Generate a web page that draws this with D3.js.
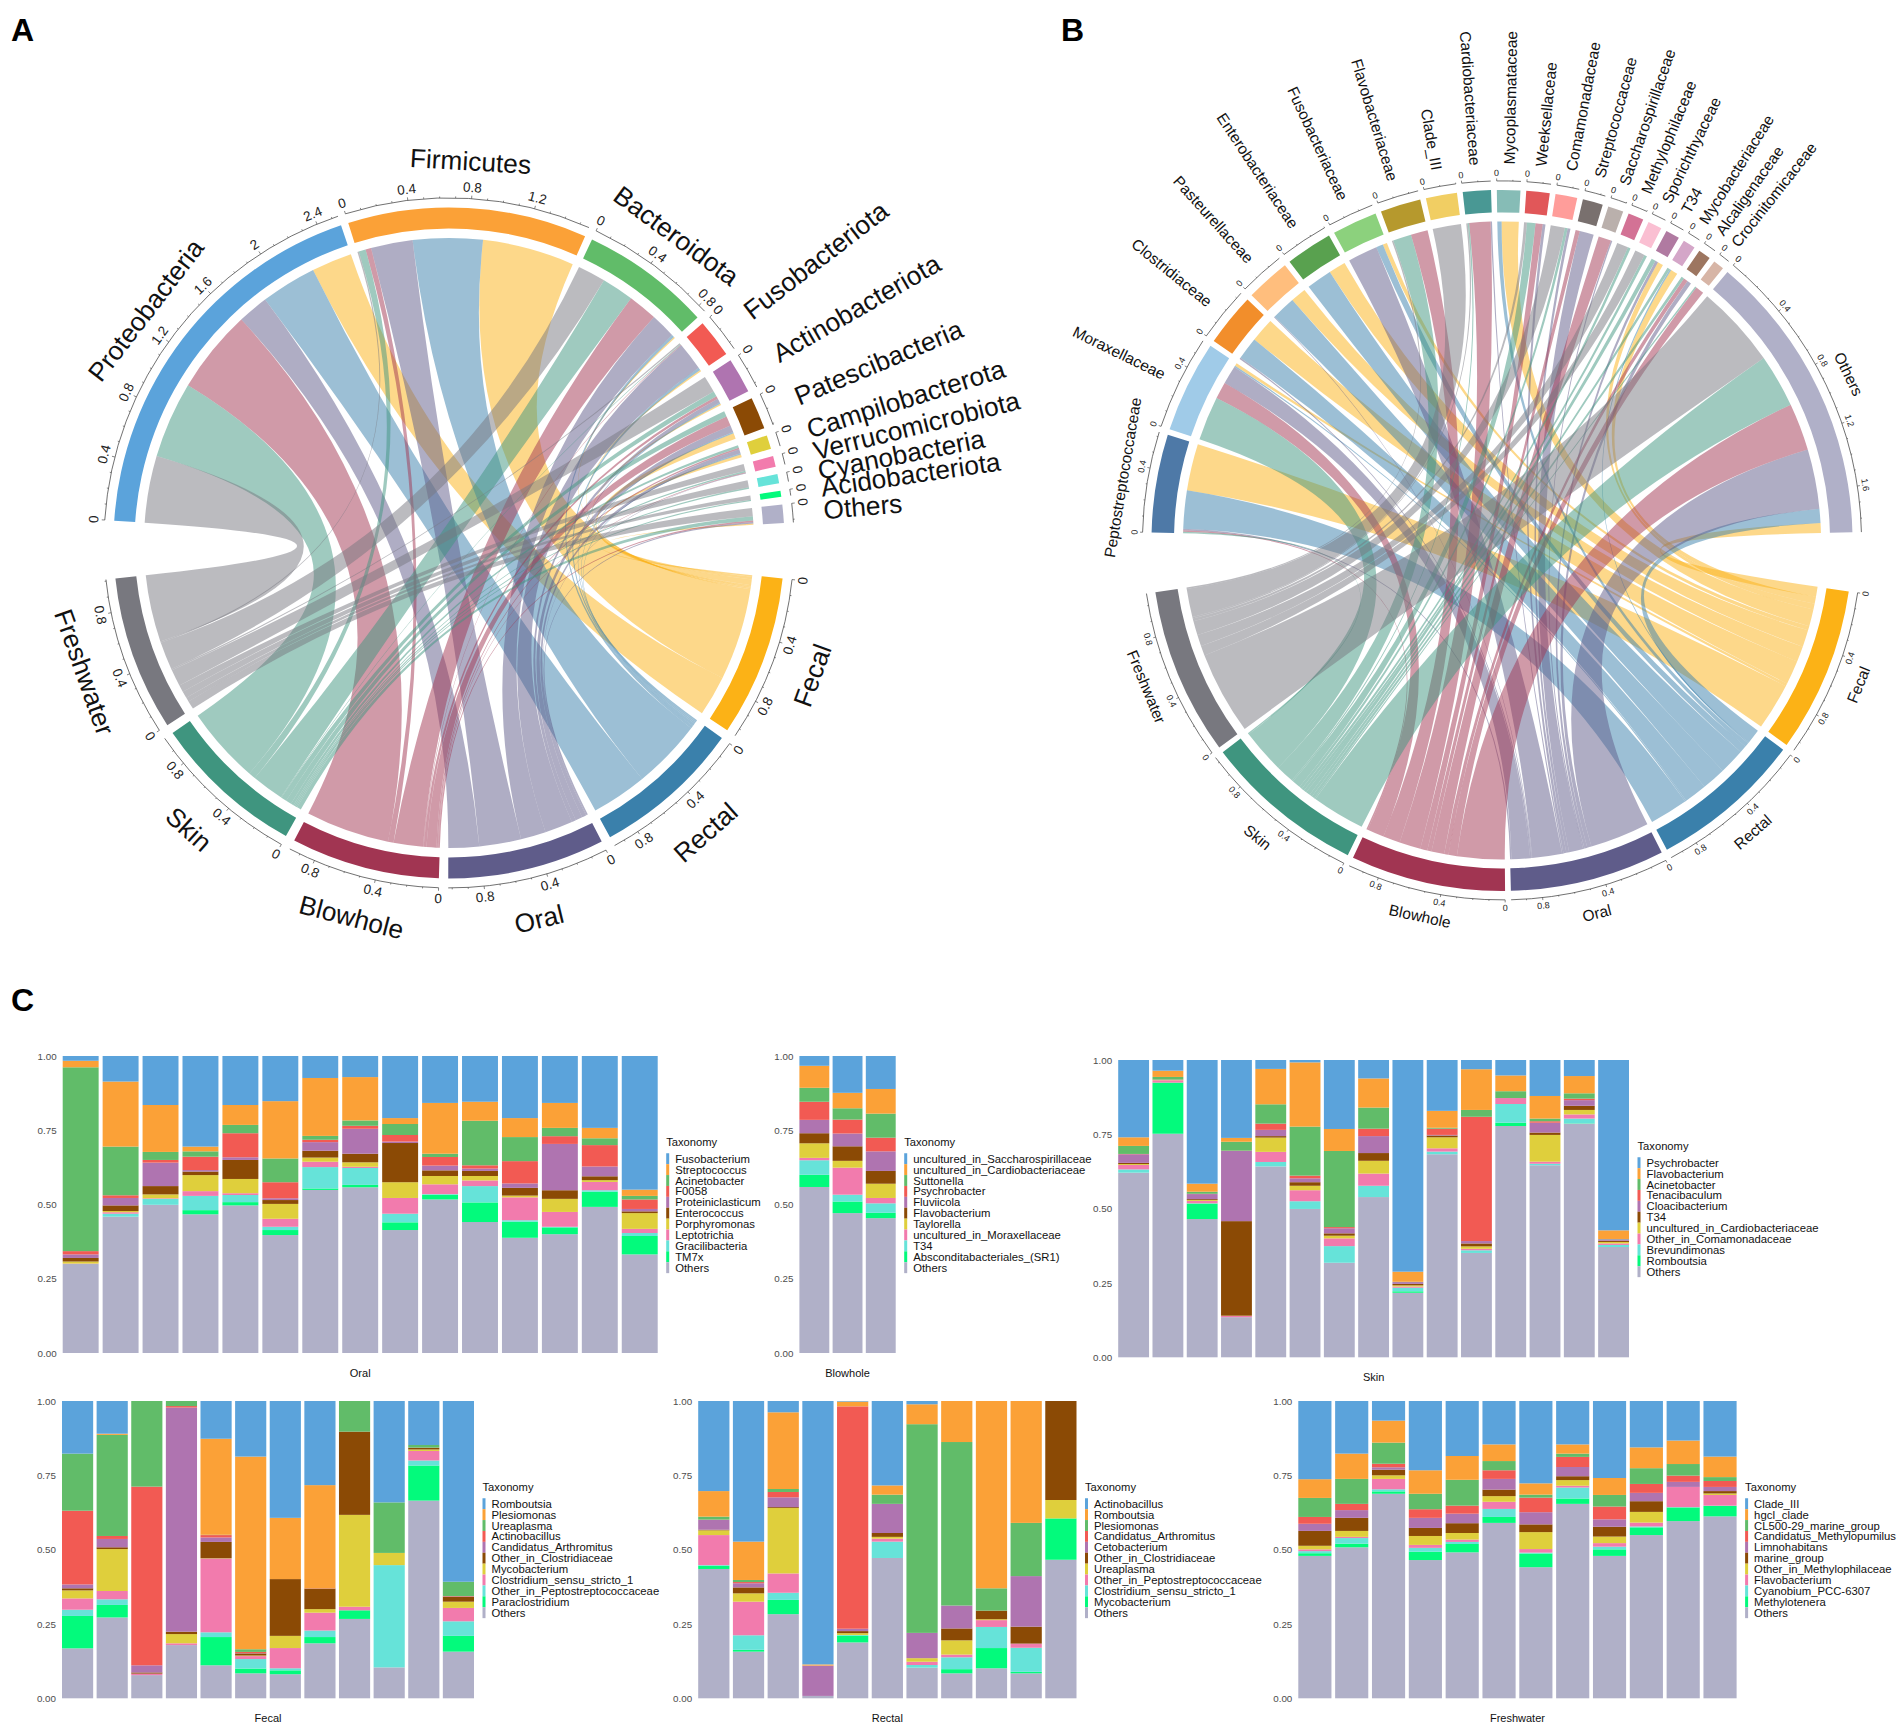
<!DOCTYPE html>
<html><head><meta charset="utf-8">
<script src="https://cdn.jsdelivr.net/npm/d3@7"></script>
<style>html,body{margin:0;padding:0;background:#fff}svg{display:block}text{font-family:"Liberation Sans",Arial,sans-serif}</style>
</head><body><div id="c"></div>
<script>
// ---------- DATA ----------
const habitats=["Fecal","Rectal","Oral","Blowhole","Skin","Freshwater"];
const habitatColors=["#fcb216","#3a80ab","#5f5c8a","#a13552","#3f957f","#78787f"];

const phylaNames=["Proteobacteria","Firmicutes","Bacteroidota","Fusobacteriota","Actinobacteriota","Patescibacteria","Campilobacterota","Verrucomicrobiota","Cyanobacteria","Acidobacteriota","Others"];
const phylaColors=["#5ba3db","#fba137","#61bc69","#f25a53","#af74b0","#8b4a05","#dfcf3c","#f27bad","#66e3d9","#03fa7c","#b0b0c8"];
// rows: phyla; columns: habitats
const phylaMatrix=[
[.29,.40,.22,.60,.55,.48],
[.66,.50,.30,.04,.05,.01],
[.01,.02,.18,.21,.23,.20],
[.01,.02,.20,.005,.005,.01],
[.01,.01,.03,.02,.04,.12],
[.04,.01,.05,.07,.04,0],
[.02,.01,.03,.01,.02,0],
[0,0,.005,.005,.01,.05],
[0,0,0,0,.01,.05],
[0,0,0,0,.01,.03],
[.01,0,.01,.01,.03,.06]];

const familyNames=["Peptostreptococcaceae","Moraxellaceae","Clostridiaceae","Pasteurellaceae","Enterobacteriaceae","Fusobacteriaceae","Flavobacteriaceae","Clade_III","Cardiobacteriaceae","Mycoplasmataceae","Weeksellaceae","Comamonadaceae","Streptococcaceae","Saccharospirillaceae","Methylophilaceae","Sporichthyaceae","T34","Mycobacteriaceae","Alcaligenaceae","Crocinitomicaceae","Others"];
const familyColors=["#4e79a7","#a0cbe8","#f28e2b","#ffbe7d","#59a14f","#8cd17d","#b6992d","#f1ce63","#499894","#86bcb6","#e15759","#ff9d9a","#79706e","#bab0ac","#d37295","#fabfd2","#b07aa1","#d4a6c8","#9d7660","#d7b5a6","#b0b0c8"];
const familyMatrix=[
[.33,.27,.01,.01,.01,0],
[.02,.01,.13,.12,.31,0],
[.17,.16,.01,0,0,0],
[.11,.17,.005,0,0,0],
[.12,.18,0,0,0,0],
[.03,.05,.21,0,0,0],
[0,0,0,.12,.13,.01],
[0,0,0,0,0,.20],
[0,0,.01,.15,.01,.01],
[.12,.03,0,0,0,0],
[0,0,.02,.05,.06,.02],
[0,0,.02,0,.02,.10],
[0,0,.10,.03,0,0],
[0,0,.01,.09,0,0],
[0,0,0,0,.02,.08],
[0,0,0,0,.02,.07],
[.04,0,.02,0,.03,0],
[.05,.01,0,0,.02,0],
[0,0,.03,.03,.02,0],
[0,0,0,.06,.01,0],
[.07,.10,.42,.335,.376,.585]];

const barColors=["#5ba3db","#fba137","#61bc69","#f25a53","#af74b0","#8b4a05","#dfcf3c","#f27bad","#66e3d9","#03fa7c","#b0b0c8"];

// Stacked bars: each row is one sample, giving the top of each band read off the axis,
// from the bottom band (Others) upward; the top band always runs to 1.00.
const oralTaxa=["Fusobacterium","Streptococcus","Acinetobacter","F0058","Proteiniclasticum","Enterococcus","Porphyromonas","Leptotrichia","Gracilibacteria","TM7x","Others"];
const oralTops=[
[.300,.300,.300,.301,.308,.320,.332,.343,.962,.984],
[.459,.459,.469,.474,.478,.497,.522,.531,.695,.914],
[.499,.499,.519,.521,.534,.562,.641,.650,.677,.835],
[.467,.481,.529,.545,.599,.611,.616,.661,.679,.695],
[.497,.508,.532,.538,.586,.650,.659,.740,.768,.835],
[.397,.414,.425,.452,.502,.515,.521,.575,.655,.848],
[.549,.554,.626,.644,.658,.681,.710,.718,.731,.926],
[.558,.566,.623,.627,.642,.671,.755,.765,.783,.929],
[.414,.440,.469,.522,.575,.707,.712,.734,.771,.791],
[.517,.533,.535,.568,.596,.615,.631,.660,.671,.842],
[.441,.507,.562,.581,.596,.613,.621,.632,.782,.846],
[.388,.442,.447,.524,.530,.556,.571,.646,.727,.791],
[.400,.423,.425,.475,.519,.548,.704,.730,.758,.842],
[.492,.543,.548,.576,.582,.595,.628,.700,.723,.758],
[.332,.394,.404,.418,.471,.477,.485,.517,.529,.550]];

const blowholeTaxa=["uncultured_in_Saccharospirillaceae","uncultured_in_Cardiobacteriaceae","Suttonella","Psychrobacter","Fluviicola","Flavobacterium","Taylorella","uncultured_in_Moraxellaceae","T34","Absconditabacteriales_(SR1)","Others"];
const blowholeTops=[
[.559,.600,.649,.657,.706,.740,.785,.846,.893,.967],
[.471,.510,.533,.624,.647,.696,.739,.786,.824,.876],
[.454,.472,.504,.522,.570,.613,.679,.725,.806,.889]];

const skinTaxa=["Psychrobacter","Flavobacterium","Acinetobacter","Tenacibaculum","Cloacibacterium","T34","uncultured_in_Cardiobacteriaceae","Other_in_Comamonadaceae","Brevundimonas","Romboutsia","Others"];
const skinTops=[
[.621,.621,.632,.647,.650,.654,.683,.684,.711,.740],
[.752,.924,.924,.932,.933,.933,.933,.934,.943,.964],
[.465,.517,.518,.526,.529,.532,.549,.550,.557,.584],
[.135,.135,.135,.139,.140,.458,.694,.695,.725,.738],
[.642,.642,.657,.691,.739,.744,.765,.786,.851,.970],
[.499,.499,.525,.562,.577,.589,.602,.611,.776,.992],
[.318,.318,.374,.400,.409,.417,.434,.438,.694,.768],
[.539,.539,.577,.618,.661,.687,.744,.769,.840,.938],
[.217,.222,.234,.238,.242,.247,.253,.253,.254,.288],
[.683,.683,.692,.703,.740,.746,.748,.769,.772,.829],
[.351,.351,.360,.365,.373,.383,.391,.809,.832,.969],
[.778,.789,.852,.872,.872,.872,.872,.872,.895,.948],
[.646,.646,.651,.658,.748,.756,.789,.794,.803,.879],
[.786,.787,.803,.817,.832,.846,.865,.870,.888,.946],
[.371,.371,.378,.383,.388,.392,.397,.397,.398,.427]];

const fecalTaxa=["Romboutsia","Plesiomonas","Ureaplasma","Actinobacillus","Candidatus_Arthromitus","Other_in_Clostridiaceae","Mycobacterium","Clostridium_sensu_stricto_1","Other_in_Peptostreptococcaceae","Paraclostridium","Others"];
const fecalTops=[
[.168,.277,.298,.336,.363,.370,.383,.631,.823,.823],
[.272,.314,.333,.361,.502,.508,.536,.546,.886,.890],
[.078,.078,.078,.083,.083,.087,.111,.712,1,1],
[.179,.179,.179,.185,.216,.224,.978,.983,1,1],
[.111,.206,.222,.470,.471,.526,.541,.549,.550,.873],
[.084,.100,.132,.142,.144,.151,.152,.156,.165,.813],
[.081,.094,.101,.169,.210,.401,.401,.401,.401,.607],
[.185,.206,.228,.288,.300,.369,.369,.370,.370,.717],
[.267,.296,.296,.308,.617,.897,.897,.897,1,1],
[.104,.104,.448,.448,.489,.489,.489,.489,.659,.659],
[.665,.783,.800,.832,.837,.842,.842,.843,.852,.852],
[.157,.210,.259,.304,.325,.342,.343,.344,.392,.392]];

const rectalTaxa=["Actinobacillus","Romboutsia","Plesiomonas","Candidatus_Arthromitus","Cetobacterium","Other_in_Clostridiaceae","Ureaplasma","Other_in_Peptostreptococcaceae","Clostridium_sensu_stricto_1","Mycobacterium","Others"];
const rectalTops=[
[.435,.446,.448,.549,.565,.567,.600,.601,.611,.697],
[.157,.163,.212,.325,.353,.373,.387,.391,.398,.527],
[.283,.331,.355,.420,.640,.643,.676,.694,.704,.962],
[.008,.008,.008,.008,.008,.008,.110,.110,.110,.114],
[.188,.211,.213,.213,.219,.226,.234,.982,.982,.998],
[.472,.472,.527,.537,.543,.556,.654,.654,.685,.716],
[.103,.103,.112,.123,.135,.135,.220,.220,.922,.989],
[.084,.098,.138,.147,.195,.235,.312,.312,.862,1],
[.101,.169,.240,.263,.266,.295,.295,.295,.370,1],
[.084,.089,.170,.184,.184,.241,.411,.411,.590,1],
[.466,.605,.605,.605,.667,1,1,1,1,1]];

const freshTaxa=["Clade_III","hgcI_clade","CL500-29_marine_group","Candidatus_Methylopumilus","Limnohabitans","marine_group","Other_in_Methylophilaceae","Flavobacterium","Cyanobium_PCC-6307","Methylotenera","Others"];
const freshTops=[
[.479,.488,.495,.501,.513,.563,.587,.610,.674,.737],
[.508,.520,.539,.543,.563,.607,.633,.654,.738,.823],
[.688,.696,.703,.738,.750,.769,.777,.789,.860,.934],
[.465,.493,.506,.516,.546,.573,.607,.636,.688,.767],
[.491,.519,.526,.534,.556,.589,.621,.648,.735,.815],
[.590,.610,.637,.661,.680,.702,.738,.767,.798,.854],
[.441,.487,.490,.502,.559,.585,.626,.675,.685,.723],
[.654,.672,.709,.715,.734,.747,.778,.812,.823,.854],
[.479,.501,.510,.522,.544,.577,.602,.645,.684,.741],
[.549,.575,.578,.591,.627,.663,.691,.721,.774,.844],
[.596,.642,.643,.711,.711,.711,.728,.749,.788,.867],
[.612,.647,.648,.684,.689,.697,.711,.731,.744,.813]];

// ---------- DRAWING ----------
const svg=d3.select("#c").append("svg").attr("width",1904).attr("height",1729).attr("viewBox","0 0 1904 1729");
const rad=d=>d*Math.PI/180;
const deg=a=>a*180/Math.PI;

function chord(o){
  const g=svg.append("g").attr("transform",`translate(${o.cx},${o.cy})`);
  const taxonSum=o.matrix.map(r=>d3.sum(r));
  const habSum=habitats.map((_,j)=>d3.sum(o.matrix,r=>r[j]));
  const total=d3.sum(taxonSum)+d3.sum(habSum);
  const perUnit=(360-o.gapA-o.gapB-o.gapT*(taxonSum.length-1)-o.gapH*(habSum.length-1))/total;
  const sectors=[];
  let a=o.start;
  taxonSum.forEach((s,i)=>{sectors.push({name:o.names[i],color:o.colors[i],sum:s,scale:d3.scaleLinear().domain([0,s]).range([rad(a),rad(a+s*perUnit)])});a+=s*perUnit+(i<taxonSum.length-1?o.gapT:o.gapA);});
  const nT=taxonSum.length;
  habSum.forEach((s,i)=>{sectors.push({name:habitats[i],color:habitatColors[i],sum:s,habitat:true,scale:d3.scaleLinear().domain([0,s]).range([rad(a),rad(a+s*perUnit)])});a+=s*perUnit+o.gapH;});

  // ribbons: inside a taxon sector habitats run in reverse; inside a habitat sector taxa run in reverse
  const ribbon=d3.ribbon().radius(o.linkR);
  const srcPos=o.matrix.map(r=>{let c=0;const p=[];for(let j=habitats.length-1;j>=0;j--){p[j]=[c,c+r[j]];c+=r[j];}return p;});
  const dstPos=habitats.map((_,j)=>{let c=0;const p=[];for(let i=nT-1;i>=0;i--){p[i]=[c,c+o.matrix[i][j]];c+=o.matrix[i][j];}return p;});
  o.matrix.forEach((r,i)=>r.forEach((v,j)=>{
    if(!v)return;
    const S=sectors[i].scale,T=sectors[nT+j].scale;
    g.append("path").attr("d",ribbon({
      source:{startAngle:S(srcPos[i][j][0]),endAngle:S(srcPos[i][j][1])},
      target:{startAngle:T(dstPos[j][i][0]),endAngle:T(dstPos[j][i][1])}
    })).attr("fill",habitatColors[j]).attr("fill-opacity",.5).attr("stroke","none");
  }));

  const ring=d3.arc().innerRadius(o.ringIn).outerRadius(o.ringOut);
  sectors.forEach(s=>{
    const [a0,a1]=s.scale.range();
    g.append("path").attr("d",ring({startAngle:a0,endAngle:a1})).attr("fill",s.color);
    // axis line
    const p=d3.path();p.arc(0,0,o.axisR,a0-Math.PI/2,a1-Math.PI/2);
    g.append("path").attr("d",p.toString()).attr("fill","none").attr("stroke","#333").attr("stroke-width",.7);
    d3.range(0,s.sum+1e-6,.1).forEach((t,k)=>{
      const an=s.scale(t),maj=k%4===0,ln=maj?o.tickMajor:o.tickMinor;
      const sx=Math.sin(an),cx=-Math.cos(an);
      g.append("line").attr("x1",o.axisR*sx).attr("y1",o.axisR*cx).attr("x2",(o.axisR+ln)*sx).attr("y2",(o.axisR+ln)*cx).attr("stroke","#333").attr("stroke-width",.6);
      if(maj){
        const d=deg(an),low=Math.cos(an)<0;
        g.append("text").attr("transform",`translate(${o.tickR*sx},${o.tickR*cx}) rotate(${low?d-180:d})`)
         .attr("text-anchor","middle").attr("dominant-baseline","central")
         .attr("font-size",o.tickFont).attr("fill","#222").text(d3.format(".1~f")(t));
      }
    });
    // sector label
    const mid=(a0+a1)/2,d=deg(mid),sx=Math.sin(mid),cx=-Math.cos(mid),low=cx>0;
    if(s.sum>=o.bendMin){
      const R=low?o.nameRLow:o.nameRUp;
      g.append("text").attr("transform",`translate(${R*sx},${R*cx}) rotate(${low?d-180:d})`)
       .attr("text-anchor","middle").attr("dominant-baseline","central")
       .attr("font-size",o.nameFont).attr("fill","#111").text(s.name);
    }else{
      const right=sx>0;
      g.append("text").attr("transform",`translate(${o.radialR*sx},${o.radialR*cx}) rotate(${right?d-90:d+90})`)
       .attr("text-anchor",right?"start":"end").attr("dominant-baseline","central")
       .attr("font-size",o.nameFont).attr("fill","#111").text(s.name);
    }
  });
}

chord({cx:449,cy:542.9,names:phylaNames,colors:phylaColors,matrix:phylaMatrix,start:273.8,gapA:9.5,gapB:9.9,gapT:1.3,gapH:1.6,
  linkR:305,ringIn:314.5,ringOut:335.5,axisR:345,tickMajor:3,tickMinor:1.5,tickR:356,tickFont:13.5,
  bendMin:.6,nameRUp:382,nameRLow:387,radialR:376,nameFont:26.3});
chord({cx:1502,cy:540.4,names:familyNames,colors:familyColors,matrix:familyMatrix,start:271.3,gapA:9.7,gapB:9.8,gapT:.95,gapH:.95,
  linkR:319,ringIn:328,ringOut:350.5,axisR:359.5,tickMajor:2.5,tickMinor:1.2,tickR:367.5,tickFont:9,
  bendMin:.6,nameRUp:384.5,nameRLow:384.5,radialR:376,nameFont:15.5});

function stacked(o){
  const g=svg.append("g");
  const n=o.taxa.length;
  const x=d3.scaleBand().domain(d3.range(o.tops.length)).range([o.x0,o.x1]).paddingInner(.1).paddingOuter(0);
  const y=d3.scaleLinear().domain([0,1]).range([o.y0,o.y1]);
  o.tops.forEach((t,i)=>{
    d3.pairs([0,...t,1]).forEach(([lo,hi],k)=>{
      if(hi<=lo)return;
      g.append("rect").attr("x",x(i)).attr("width",x.bandwidth()).attr("y",y(hi)).attr("height",y(lo)-y(hi)).attr("fill",barColors[n-1-k]);
    });
  });
  const ax=g.append("g").attr("transform",`translate(${o.x0},0)`)
    .call(d3.axisLeft(y).tickValues([0,.25,.5,.75,1]).tickFormat(d3.format(".2f")).tickSize(0).tickPadding(6));
  ax.select(".domain").remove();
  ax.selectAll("text").attr("font-size",9.8).attr("fill","#4d4d4d").style("font-family",'"Liberation Sans",Arial,sans-serif');
  g.append("text").attr("x",(o.x0+o.x1)/2).attr("y",o.y0+20).attr("text-anchor","middle").attr("dominant-baseline","central").attr("font-size",11).attr("fill","#111").text(o.title);
  const top=o.y1+86,row=10.9,lx=o.x1+8.5;
  g.append("text").attr("x",lx).attr("y",top).attr("dominant-baseline","central").attr("font-size",11.2).attr("fill","#111").text("Taxonomy");
  o.taxa.forEach((t,i)=>{
    const cy=top+16.7+i*row;
    g.append("rect").attr("x",lx).attr("y",cy-row/2).attr("width",3).attr("height",row).attr("fill",barColors[i]);
    g.append("text").attr("x",lx+9).attr("y",cy).attr("dominant-baseline","central").attr("font-size",11.3).attr("fill","#111").text(t);
  });
}
stacked({title:"Oral",taxa:oralTaxa,tops:oralTops,x0:62.7,x1:657.7,y0:1353,y1:1056});
stacked({title:"Blowhole",taxa:blowholeTaxa,tops:blowholeTops,x0:799.4,x1:895.7,y0:1353,y1:1056});
stacked({title:"Skin",taxa:skinTaxa,tops:skinTops,x0:1118.2,x1:1629,y0:1357.3,y1:1060});
stacked({title:"Fecal",taxa:fecalTaxa,tops:fecalTops,x0:62,x1:474,y0:1698.3,y1:1401});
stacked({title:"Rectal",taxa:rectalTaxa,tops:rectalTops,x0:698.2,x1:1076.5,y0:1698.3,y1:1401});
stacked({title:"Freshwater",taxa:freshTaxa,tops:freshTops,x0:1298.3,x1:1736.6,y0:1698.3,y1:1401});

[["A",11,41],["B",1061,41],["C",11,1011]].forEach(([t,x,y])=>svg.append("text").attr("x",x).attr("y",y).attr("font-size",32).attr("font-weight","bold").attr("fill","#000").text(t));
</script></body></html>
